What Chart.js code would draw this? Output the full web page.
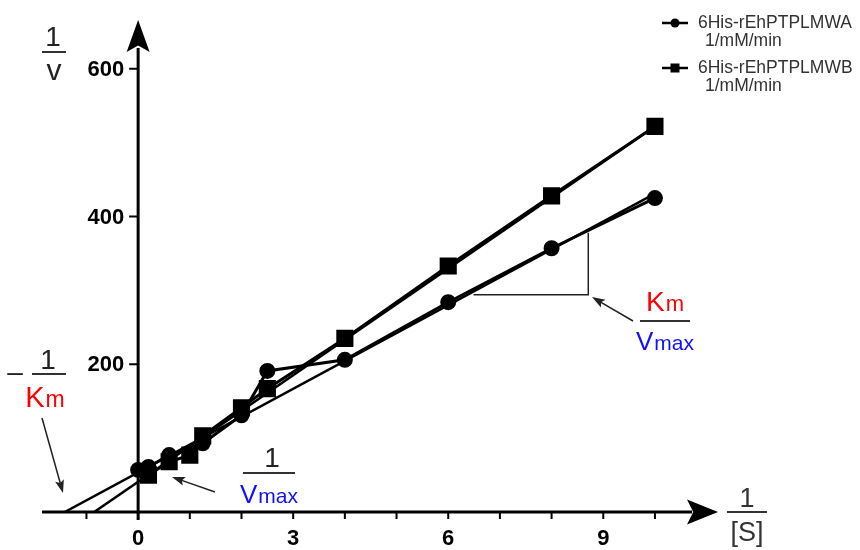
<!DOCTYPE html>
<html lang="en">
<head>
    <meta charset="UTF-8">
    <title>Lineweaver-Burk plot</title>
    <script src="https://cdn.jsdelivr.net/npm/chart.js"></script>
    <style>
        body {
            margin: 0;
            padding: 0;
            background-color: #fff;
        }

        .chart-container {
            position: relative;
            width: 860px;
            height: 550px;
        }
    </style>
</head>
<body>
    <div class="chart-container">
        <canvas id="lb-chart"></canvas>
    </div>

    <script>
        // Series names (legend)
        const seriesNames = ['6His-rEhPTPLMWA', '6His-rEhPTPLMWB'];
        const unitLabel = '1/mM/min';

        // 1/[S] and 1/v values
        const xA = [0, 0.2, 0.6, 1.25, 2, 2.5, 4, 6, 8, 10];
        const yA = [57, 61, 77, 93, 131, 191, 206, 284, 357, 425];
        const xB = [0.2, 0.6, 1, 1.25, 2, 2.5, 4, 6, 8, 10];
        const yB = [50, 68, 77, 103, 141, 167, 235, 333, 428, 522];

        // Regression lines (extended back to the x axis)
        const fitAX = [-1.42, 10];
        const fitAY = [0, 431];
        const fitBX = [-0.85, 10];
        const fitBY = [0, 522];

        // Slope triangle on line A
        const slopeX = [6.49, 8.71, 8.71];
        const slopeY = [294, 294, 378];

        // Axis ticks
        const xTicks = [-1, 0, 1, 2, 3, 4, 5, 6, 7, 8, 9, 10];
        const xTickLabels = [0, 3, 6, 9];
        const yTicks = [200, 400, 600];

        const FONT = '"Liberation Sans", Arial, Helvetica, sans-serif';

        function toPoints(xs, ys) {
            return xs.map((x, i) => ({ x: x, y: ys[i] }));
        }

        function arrowHead(ctx, x1, y1, x2, y2, len, half) {
            const a = Math.atan2(y2 - y1, x2 - x1);
            ctx.beginPath();
            ctx.moveTo(x2, y2);
            ctx.lineTo(x2 - len * Math.cos(a) + half * Math.sin(a), y2 - len * Math.sin(a) - half * Math.cos(a));
            ctx.lineTo(x2 - len * 0.8 * Math.cos(a), y2 - len * 0.8 * Math.sin(a));
            ctx.lineTo(x2 - len * Math.cos(a) - half * Math.sin(a), y2 - len * Math.sin(a) + half * Math.cos(a));
            ctx.closePath();
            ctx.fill();
        }

        function arrow(ctx, x1, y1, x2, y2) {
            ctx.save();
            ctx.strokeStyle = '#222';
            ctx.fillStyle = '#222';
            ctx.lineWidth = 1.5;
            const a = Math.atan2(y2 - y1, x2 - x1);
            ctx.beginPath();
            ctx.moveTo(x1, y1);
            ctx.lineTo(x2 - 8 * Math.cos(a), y2 - 8 * Math.sin(a));
            ctx.stroke();
            arrowHead(ctx, x1, y1, x2, y2, 13, 4.5);
            ctx.restore();
        }

        // main letter + smaller subscript, centred on cx
        function subText(ctx, main, sub, cx, base, color, fs1, fs2) {
            ctx.save();
            ctx.fillStyle = color;
            ctx.textAlign = 'left';
            ctx.textBaseline = 'alphabetic';
            ctx.font = fs1 + 'px ' + FONT;
            const w1 = ctx.measureText(main).width;
            ctx.font = fs2 + 'px ' + FONT;
            const w2 = ctx.measureText(sub).width;
            const left = cx - (w1 + w2 + 1) / 2;
            ctx.font = fs1 + 'px ' + FONT;
            ctx.fillText(main, left, base);
            ctx.font = fs2 + 'px ' + FONT;
            ctx.fillText(sub, left + w1 + 1, base);
            ctx.restore();
        }

        function plainText(ctx, text, cx, base, color, fs) {
            ctx.save();
            ctx.fillStyle = color;
            ctx.font = fs + 'px ' + FONT;
            ctx.textAlign = 'center';
            ctx.textBaseline = 'alphabetic';
            ctx.fillText(text, cx, base);
            ctx.restore();
        }

        function fracLine(ctx, x1, x2, y) {
            ctx.save();
            ctx.strokeStyle = '#333';
            ctx.lineWidth = 2;
            ctx.beginPath();
            ctx.moveTo(x1, y);
            ctx.lineTo(x2, y);
            ctx.stroke();
            ctx.restore();
        }

        // axes with arrows, drawn through the chart's scales
        const axesPlugin = {
            id: 'arrowAxes',
            beforeDatasetsDraw(chart) {
                const ctx = chart.ctx;
                const xs = chart.scales.x;
                const ys = chart.scales.y;
                const x0 = xs.getPixelForValue(0);
                const y0 = ys.getPixelForValue(0);
                const left = xs.getPixelForValue(xs.min);
                const right = xs.getPixelForValue(xs.max);
                const top = ys.getPixelForValue(ys.max);

                ctx.save();
                ctx.strokeStyle = '#000';
                ctx.fillStyle = '#000';

                // x axis
                ctx.lineWidth = 3;
                ctx.beginPath();
                ctx.moveTo(left, y0);
                ctx.lineTo(right - 26, y0);
                ctx.stroke();
                arrowHead(ctx, left, y0, right, y0, 31, 12.5);

                // y axis
                ctx.beginPath();
                ctx.moveTo(x0, y0 + 8);
                ctx.lineTo(x0, top + 28);
                ctx.stroke();
                arrowHead(ctx, x0, y0, x0, top, 32, 11.5);

                // ticks
                ctx.lineWidth = 2;
                xTicks.forEach(v => {
                    const px = xs.getPixelForValue(v);
                    ctx.beginPath();
                    ctx.moveTo(px, y0);
                    ctx.lineTo(px, y0 + 7);
                    ctx.stroke();
                });
                yTicks.forEach(v => {
                    const py = ys.getPixelForValue(v);
                    ctx.beginPath();
                    ctx.moveTo(x0 - 9, py);
                    ctx.lineTo(x0, py);
                    ctx.stroke();
                });

                // tick labels
                ctx.font = 'bold 22px ' + FONT;
                ctx.textAlign = 'center';
                ctx.textBaseline = 'top';
                xTickLabels.forEach(v => {
                    ctx.fillText(String(v), xs.getPixelForValue(v), y0 + 16);
                });
                ctx.textAlign = 'right';
                ctx.textBaseline = 'middle';
                yTicks.forEach(v => {
                    ctx.fillText(String(v), x0 - 14, ys.getPixelForValue(v) + 1);
                });
                ctx.restore();
            },
            afterDatasetsDraw(chart) {
                const ctx = chart.ctx;

                // 1 / v
                plainText(ctx, '1', 53, 46, '#222', 28);
                fracLine(ctx, 42, 66, 52);
                plainText(ctx, 'v', 54, 80, '#222', 30);

                // - 1 / Km
                plainText(ctx, '\u2013', 15, 381, '#222', 28);
                plainText(ctx, '1', 48, 369, '#222', 28);
                fracLine(ctx, 32, 66, 374);
                subText(ctx, 'K', 'm', 45, 407, '#ff0000', 29, 23);
                arrow(ctx, 42, 418, 63, 493);

                // 1 / Vmax
                plainText(ctx, '1', 272, 467, '#222', 28);
                fracLine(ctx, 243, 295, 473);
                subText(ctx, 'V', 'max', 269, 503, '#1010ff', 26, 21);
                arrow(ctx, 215, 492, 172, 477);

                // Km / Vmax
                subText(ctx, 'K', 'm', 665, 311, '#ff0000', 28, 22);
                fracLine(ctx, 640, 690, 321);
                subText(ctx, 'V', 'max', 665, 350, '#1010ff', 26, 21);
                arrow(ctx, 633, 321, 592, 297);

                // 1 / [S]
                plainText(ctx, '1', 747, 507, '#333', 27);
                fracLine(ctx, 727, 767, 512);
                plainText(ctx, '[S]', 747, 541, '#333', 27);

                // legend
                ctx.save();
                ctx.strokeStyle = '#000';
                ctx.fillStyle = '#000';
                ctx.lineWidth = 2.5;
                [23, 68].forEach((ly, i) => {
                    ctx.beginPath();
                    ctx.moveTo(662, ly);
                    ctx.lineTo(688, ly);
                    ctx.stroke();
                    ctx.beginPath();
                    if (i === 0) {
                        ctx.arc(675, ly, 4.5, 0, Math.PI * 2);
                    } else {
                        ctx.rect(670.5, ly - 4.5, 9, 9);
                    }
                    ctx.fill();
                });
                ctx.fillStyle = '#333';
                ctx.font = '17.5px ' + FONT;
                ctx.textAlign = 'left';
                ctx.textBaseline = 'alphabetic';
                ctx.fillText(seriesNames[0], 698, 28);
                ctx.fillText(unitLabel, 705, 46);
                ctx.fillText(seriesNames[1], 698, 73);
                ctx.fillText(unitLabel, 705, 91);
                ctx.restore();
            }
        };

        const ctx = document.getElementById('lb-chart').getContext('2d');
        new Chart(ctx, {
            type: 'scatter',
            data: {
                datasets: [
                    {
                        label: seriesNames[0],
                        data: toPoints(xA, yA),
                        showLine: true,
                        borderColor: '#000',
                        backgroundColor: '#000',
                        borderWidth: 3,
                        pointStyle: 'circle',
                        pointRadius: 6.5,
                        pointHoverRadius: 6.5,
                        order: 1
                    },
                    {
                        label: seriesNames[1],
                        data: toPoints(xB, yB),
                        showLine: true,
                        borderColor: '#000',
                        backgroundColor: '#000',
                        borderWidth: 3,
                        pointStyle: 'rect',
                        pointRadius: 10,
                        pointHoverRadius: 10,
                        order: 1
                    },
                    {
                        label: 'fit A',
                        data: toPoints(fitAX, fitAY),
                        showLine: true,
                        borderColor: '#000',
                        borderWidth: 2.5,
                        pointRadius: 0,
                        order: 2
                    },
                    {
                        label: 'fit B',
                        data: toPoints(fitBX, fitBY),
                        showLine: true,
                        borderColor: '#000',
                        borderWidth: 2.5,
                        pointRadius: 0,
                        order: 2
                    },
                    {
                        label: 'slope',
                        data: toPoints(slopeX, slopeY),
                        showLine: true,
                        borderColor: '#222',
                        borderWidth: 1.5,
                        pointRadius: 0,
                        order: 3
                    }
                ]
            },
            options: {
                responsive: true,
                maintainAspectRatio: false,
                animation: false,
                layout: {
                    padding: { left: 42, right: 142, top: 20, bottom: 38 }
                },
                scales: {
                    x: { type: 'linear', min: -1.86, max: 11.22, display: false },
                    y: { type: 'linear', min: 0, max: 666, display: false }
                },
                plugins: {
                    legend: { display: false },
                    tooltip: { enabled: false }
                }
            },
            plugins: [axesPlugin]
        });
    </script>
</body>
</html>
